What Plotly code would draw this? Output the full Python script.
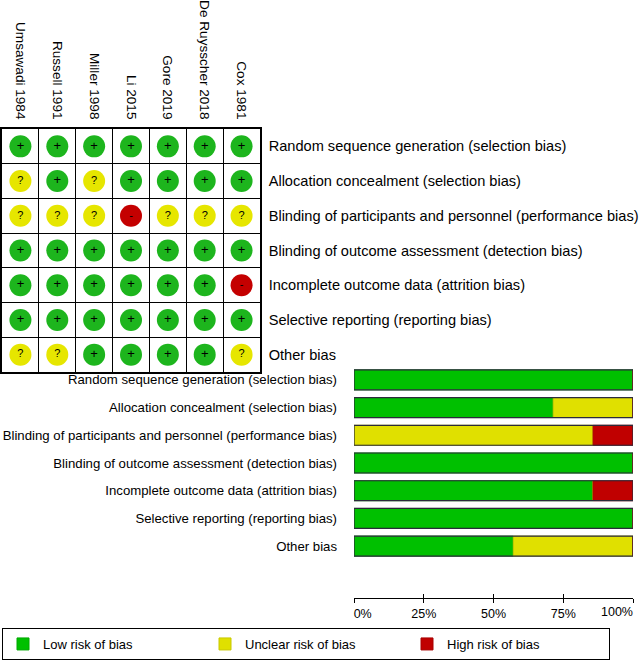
"""
Risk of bias summary (traffic-light grid) and risk of bias graph (stacked bars).
"""
import plotly.graph_objects as go

W, H = 641, 660

studies = ['Umsawadi 1984', 'Russell 1991', 'Miller 1998', 'Li 2015',
           'Gore 2019', 'De Ruysscher 2018', 'Cox 1981']

domains = ['Random sequence generation (selection bias)',
           'Allocation concealment (selection bias)',
           'Blinding of participants and personnel (performance bias)',
           'Blinding of outcome assessment (detection bias)',
           'Incomplete outcome data (attrition bias)',
           'Selective reporting (reporting bias)',
           'Other bias']

# judgement per domain (row), one entry per study (column)
random_seq = ['+', '+', '+', '+', '+', '+', '+']
allocation = ['?', '+', '?', '+', '+', '+', '+']
blind_part = ['?', '?', '?', '-', '?', '?', '?']
blind_outc = ['+', '+', '+', '+', '+', '+', '+']
incomplete = ['+', '+', '+', '+', '+', '+', '-']
selective = ['+', '+', '+', '+', '+', '+', '+']
other = ['?', '?', '+', '+', '+', '+', '?']
judgements = [random_seq, allocation, blind_part, blind_outc,
              incomplete, selective, other]

# percentages for the summary bars
low_pct = [100, 71.4, 0, 100, 85.7, 100, 57.1]
unclear_pct = [0, 28.6, 85.7, 0, 0, 0, 42.9]
high_pct = [0, 0, 14.3, 0, 14.3, 0, 0]

x_ticks = [0, 25, 50, 75, 100]
# first label sits right of its tick (padded with nbsp), last one is drawn
# on an overlay axis shifted left of its tick
NB = '\u00a0'
x_ticktext = [NB * 5 + '0%', '25%', '50%', '75%', '']
x_ticktext_end = ['', '', '', '', '100%']

circle_col = {'+': '#1db51d', '?': '#e6e600', '-': '#c40000'}
bar_col = {'low': '#00c000', 'unclear': '#e0e000', 'high': '#c00000'}
bar_edge = {'low': '#00a800', 'unclear': '#c8c800', 'high': '#a80000'}

FONT = 'Liberation Sans, Arial, sans-serif'


def px_x(p):
    return p / W


def px_y(p):
    return 1 - p / H


fig = go.Figure()

# ---- traffic light grid ----
for sym in ['+', '?', '-']:
    xs, ys = [], []
    for r, row in enumerate(judgements):
        for c, j in enumerate(row):
            if j == sym:
                xs.append(c)
                ys.append(r)
    fig.add_trace(go.Scatter(
        x=xs, y=ys, mode='markers+text',
        text=[sym] * len(xs), textposition='middle center',
        textfont=dict(family=FONT, size=13 if sym == '+' else 11, color='black'),
        marker=dict(size=22, color=circle_col[sym], line=dict(width=0)),
        cliponaxis=False, showlegend=False, hoverinfo='skip',
        xaxis='x', yaxis='y'))

# ---- stacked bars ----
segments = [('low', 'Low risk of bias', low_pct),
            ('unclear', 'Unclear risk of bias', unclear_pct),
            ('high', 'High risk of bias', high_pct)]
base = [0] * len(domains)
for key, name, vals in segments:
    fig.add_trace(go.Bar(
        y=domains, x=vals, base=base, orientation='h', name=name,
        marker=dict(color=bar_col[key], line=dict(color=bar_edge[key], width=1)),
        width=0.72, xaxis='x2', yaxis='y2', hoverinfo='skip'))
    base = [b + v for b, v in zip(base, vals)]

# outline around each whole bar
fig.add_trace(go.Bar(
    y=domains, x=base, base=[0] * len(domains), orientation='h',
    marker=dict(color='rgba(0,0,0,0)', line=dict(color='#2b2b3b', width=1.2)),
    width=0.72, xaxis='x2', yaxis='y2', showlegend=False, hoverinfo='skip'))

axis2_common = dict(
    domain=[px_x(354), px_x(633)], range=[0, 100], automargin=False,
    tickvals=x_ticks, tickfont=dict(size=12.5), ticklen=4, tickcolor='black',
    tickwidth=1.2, showgrid=False, zeroline=False,
    anchor='free', position=px_y(598), fixedrange=True)

fig.update_layout(
    width=W, height=H,
    margin=dict(l=0, r=0, t=0, b=0, autoexpand=False),
    paper_bgcolor='white', plot_bgcolor='white',
    barmode='overlay',
    font=dict(family=FONT, size=13, color='black'),
    xaxis=dict(
        domain=[px_x(2), px_x(260)], range=[-0.5, 6.5], automargin=False,
        side='top', tickvals=list(range(len(studies))), ticktext=studies,
        tickangle=90, tickfont=dict(size=13.6), ticks='', ticklabelstandoff=3,
        showgrid=False, zeroline=False,
        showline=True, mirror=True, linecolor='black', linewidth=1.5,
        minor=dict(tickvals=[i + 0.5 for i in range(len(studies) - 1)],
                   showgrid=True, gridcolor='black', gridwidth=1.3, ticks=''),
        fixedrange=True),
    yaxis=dict(
        domain=[px_y(372), px_y(129)], range=[6.5, -0.5], automargin=False,
        side='right', tickvals=list(range(len(domains))), ticktext=domains,
        tickfont=dict(size=14.6), ticks='', ticklabelstandoff=4,
        showgrid=False, zeroline=False,
        showline=True, mirror=True, linecolor='black', linewidth=1.5,
        minor=dict(tickvals=[i + 0.5 for i in range(len(domains) - 1)],
                   showgrid=True, gridcolor='black', gridwidth=1.3, ticks=''),
        anchor='x', fixedrange=True),
    xaxis2=dict(
        **axis2_common, ticktext=x_ticktext, ticks='outside',
        showline=True, linecolor='black', linewidth=1.2),
    xaxis3=dict(
        **axis2_common, ticktext=x_ticktext_end, ticks='inside',
        ticklabelposition='outside', ticklabelshift=-16, ticklabelstandoff=4,
        overlaying='x2', showline=False),
    yaxis2=dict(
        domain=[px_y(560), px_y(366)], autorange='reversed', automargin=False,
        categoryorder='array', categoryarray=domains,
        tickfont=dict(size=13.2), ticks='', ticklabelstandoff=16,
        showgrid=False, zeroline=False, showline=False,
        anchor='x2', fixedrange=True),
    legend=dict(
        orientation='h', x=px_x(2), y=px_y(628), xanchor='left', yanchor='top',
        bordercolor='black', borderwidth=1, bgcolor='white',
        entrywidth=157, entrywidthmode='pixels',
        font=dict(size=13), traceorder='normal'),
)

# an invisible trace keeps the overlay axis drawn
fig.add_trace(go.Scatter(x=[None], y=[None], xaxis='x3', yaxis='y2',
                         showlegend=False, hoverinfo='skip'))

# the page body has a default 8px margin; drop it so the figure fills the window
fig.write_html("out.html", config={'displayModeBar': False},
               post_script="document.body.style.margin='0';")
